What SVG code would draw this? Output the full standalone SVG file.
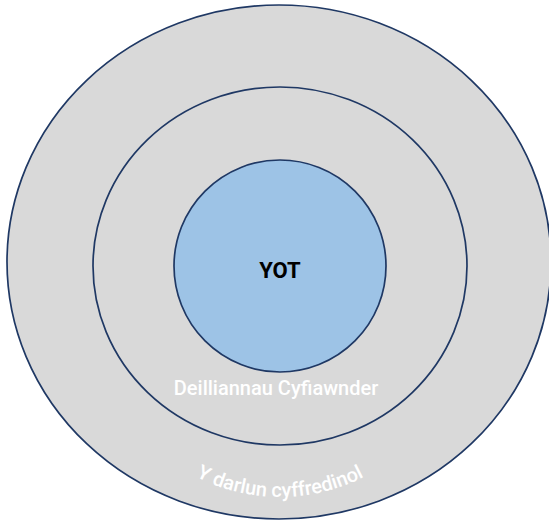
<svg xmlns="http://www.w3.org/2000/svg" xmlns:xlink="http://www.w3.org/1999/xlink" width="549" height="527" viewBox="0 0 549 527">
<style>
.ring{fill:#d9d9d9;stroke:#1f3864;stroke-width:1.7}
.core{fill:#9dc3e6;stroke:#1f3864;stroke-width:1.7}
.lbl{font-family:Roboto,"Liberation Sans",sans-serif;font-size:20px;fill:#ffffff;font-weight:500}
.main{font-family:Roboto,"Liberation Sans",sans-serif;font-size:22px;font-weight:700;fill:#000000}
</style>
<defs>
<path id="arc" d="M 95,312 A 185 185 0 0 0 465,312"/>
</defs>
<rect width="549" height="527" fill="#ffffff"/>
<g id="outer">
<ellipse class="ring" cx="279" cy="262" rx="272" ry="257"/>
<text class="lbl"><textPath xlink:href="#arc" href="#arc" startOffset="50%" text-anchor="middle">Y darlun cyffredinol</textPath></text>
</g>
<g id="middle">
<ellipse class="ring" cx="280" cy="266" rx="187" ry="179"/>
<text class="lbl" x="276" y="395" text-anchor="middle">Deilliannau Cyfiawnder</text>
</g>
<g id="yot">
<circle class="core" cx="280" cy="266" r="106"/>
<text class="main" x="280" y="278" text-anchor="middle">YOT</text>
</g>
<g id="connectors"/>
</svg>
